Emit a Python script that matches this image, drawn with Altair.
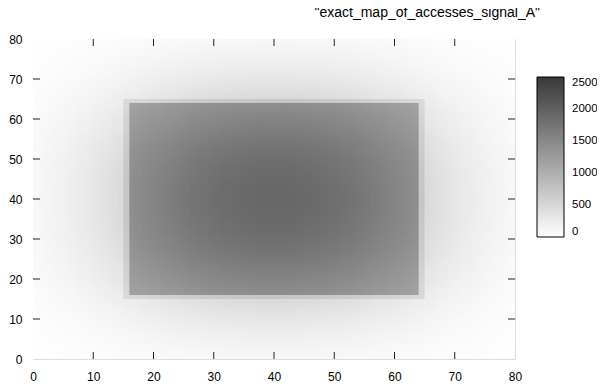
import altair as alt
import pandas as pd

# 1-D access profile (relative; same along x and y)
profile_left = [0.10, 0.12, 0.14, 0.16, 0.18, 0.20, 0.22, 0.25, 0.27, 0.30,
                0.33, 0.36, 0.39, 0.43, 0.46, 0.50, 0.53, 0.56, 0.60, 0.63,
                0.66, 0.69, 0.72, 0.75, 0.78, 0.81, 0.84, 0.86, 0.88, 0.90,
                0.92, 0.94, 0.95, 0.96, 0.97, 0.98, 0.99, 1.00, 1.00, 1.00]
profile = profile_left + profile_left[::-1]
peak_outer = 1000      # accesses at the centre from the smooth part
inner_extra = 900      # extra accesses inside the 16..64 block
ring_extra = 220       # extra accesses on the one-cell ring around it
inner_lo, inner_hi = 16, 64
key_label = '"exact_map_of_accesses_signal_A"'
axis_ticks = [10, 20, 30, 40, 50, 60, 70]
axis_labels = [0, 10, 20, 30, 40, 50, 60, 70, 80]
cb_ticks = [500, 1000, 1500, 2000]
cb_labels = [0, 500, 1000, 1500, 2000, 2500]

rows = []
n = len(profile)
for i in range(n):
    for j in range(n):
        v = peak_outer * profile[i] * profile[j]
        if inner_lo <= i < inner_hi and inner_lo <= j < inner_hi:
            v += inner_extra
        elif inner_lo - 1 <= i <= inner_hi and inner_lo - 1 <= j <= inner_hi:
            v += ring_extra
        rows.append({"x": i, "x2": i + 1, "y": j, "y2": j + 1, "v": round(v, 1)})
grid = pd.DataFrame(rows)

W, H = 482, 320
xs = alt.Scale(domain=[0, 80], nice=False, zero=False)
ys = alt.Scale(domain=[0, 80], nice=False, zero=False)
cscale = alt.Scale(domain=[0, 2500], range=["#ffffff", "#383838"], interpolate="rgb")

xa = alt.Axis(values=axis_labels, title=None, labelPadding=12, domain=False, ticks=False,
              grid=False, labelOverlap=False, labelFlush=False)
ya = alt.Axis(values=axis_labels, title=None, labelPadding=11, domain=False, ticks=False,
              grid=False, labelOverlap=False, labelFlush=False)

# cells overlap their right/upper neighbour slightly (drawn in order) to hide anti-alias seams
heat = alt.Chart(grid).transform_calculate(
    xe="datum.x2 + 0.15", ye="datum.y2 + 0.1"
).mark_rect(clip=True).encode(
    x=alt.X("x:Q", scale=xs, axis=xa),
    x2="xe:Q",
    y=alt.Y("y:Q", scale=ys, axis=ya),
    y2="ye:Q",
    fill=alt.Fill("v:Q", scale=cscale,
                  legend=alt.Legend(type="gradient", orient="none", legendX=504, legendY=38,
                                    direction="vertical", gradientLength=160,
                                    gradientThickness=27, title=None, values=cb_labels,
                                    labelFontSize=11.5, labelOffset=8, labelColor="black",
                                    labelBaseline="middle", format="d",
                                    gradientStrokeColor="black", gradientStrokeWidth=1,
                                    padding=0, labelOverlap=False)),
)

tdf = pd.DataFrame({"t": axis_ticks})
tick_style = dict(color="#222222", strokeWidth=1)
bottom = alt.Chart(tdf).mark_rule(**tick_style).encode(
    x=alt.X("t:Q", scale=xs, axis=xa), y=alt.value(H), y2=alt.value(H - 7))
top = alt.Chart(tdf).mark_rule(**tick_style).encode(
    x=alt.X("t:Q", scale=xs, axis=xa), y=alt.value(0), y2=alt.value(7))
left = alt.Chart(tdf).mark_rule(**tick_style).encode(
    y=alt.Y("t:Q", scale=ys, axis=ya), x=alt.value(0), x2=alt.value(7))
right = alt.Chart(tdf).mark_rule(**tick_style).encode(
    y=alt.Y("t:Q", scale=ys, axis=ya), x=alt.value(W), x2=alt.value(W - 7))

cdf = pd.DataFrame({"c": cb_ticks})
cb_scale = alt.Scale(domain=[0, 2500], range=[198, 38])
cb_l = alt.Chart(cdf).mark_rule(**tick_style).encode(
    y=alt.Y("c:Q", scale=cb_scale, axis=None), x=alt.value(504), x2=alt.value(510))
cb_r = alt.Chart(cdf).mark_rule(**tick_style).encode(
    y=alt.Y("c:Q", scale=cb_scale, axis=None), x=alt.value(525), x2=alt.value(531))

key = alt.Chart(pd.DataFrame({"k": [key_label]})).mark_text(
    align="right", baseline="middle", fontSize=14, color="black").encode(
    x=alt.value(507), y=alt.value(-26), text="k:N")

base = alt.layer(heat, bottom, top, left, right, key)
chart = alt.layer(base, cb_l, cb_r).resolve_scale(y="independent").properties(
    width=W, height=H,
    autosize=alt.AutoSizeParams(type="none"),
    padding={"left": 25, "top": 31, "right": 82, "bottom": 24},
).configure_view(stroke="black", strokeWidth=1).configure(
    font="Liberation Sans", background="white"
).configure_axis(labelFontSize=12, labelColor="black", labelFont="Liberation Sans")

chart.save("out.html", embed_options={"renderer": "svg", "actions": False})
